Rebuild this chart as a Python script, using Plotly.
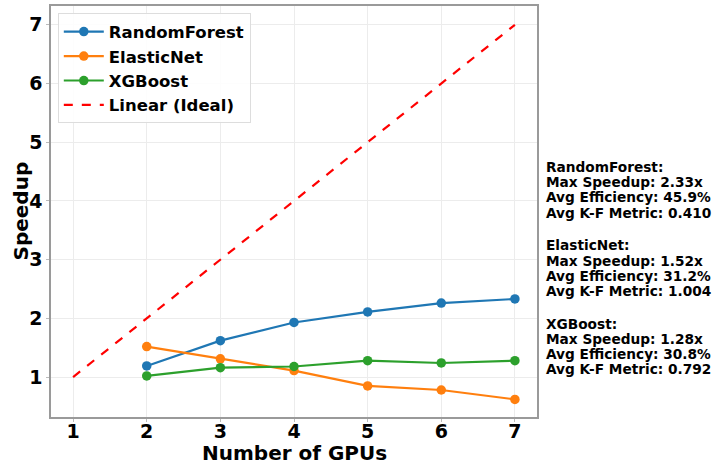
import plotly.graph_objects as go

gpus = [2, 3, 4, 5, 6, 7]
rf_speedup = [1.19, 1.62, 1.93, 2.11, 2.26, 2.33]
en_speedup = [1.52, 1.31, 1.11, 0.85, 0.78, 0.62]
xgb_speedup = [1.02, 1.16, 1.18, 1.28, 1.24, 1.28]
ideal_x = [1, 2, 3, 4, 5, 6, 7]
ideal_y = [1, 2, 3, 4, 5, 6, 7]

stats_blocks = [
    ["RandomForest:", "Max Speedup: 2.33x", "Avg Efficiency: 45.9%", "Avg K-F Metric: 0.410"],
    ["ElasticNet:", "Max Speedup: 1.52x", "Avg Efficiency: 31.2%", "Avg K-F Metric: 1.004"],
    ["XGBoost:", "Max Speedup: 1.28x", "Avg Efficiency: 30.8%", "Avg K-F Metric: 0.792"],
]

FONT = "DejaVu Sans"
W, H = 715, 464
ML, MR, MT, MB = 51, 178, 6, 47
plot_w = W - ML - MR
plot_h = H - MT - MB

fig = go.Figure()
for name, ys, col in [("RandomForest", rf_speedup, "#1f77b4"),
                      ("ElasticNet", en_speedup, "#ff7f0e"),
                      ("XGBoost", xgb_speedup, "#2ca02c")]:
    fig.add_trace(go.Scatter(x=gpus, y=ys, mode="lines+markers", name=name,
                             line=dict(color=col, width=2.2), marker=dict(size=9.5, color=col)))
fig.add_trace(go.Scatter(x=ideal_x, y=ideal_y, mode="lines", name="Linear (Ideal)",
                         line=dict(color="red", width=2.2, dash="dash")))

annotations = []
line_step = 15.2
block_gap = 17.5
for b, block in enumerate(stats_blocks):
    for i, line in enumerate(block):
        py = 167 + line_step * (b * 4 + i) + block_gap * b
        annotations.append(dict(text=line, xref="paper", yref="paper",
                                x=(544 - ML) / plot_w, y=(H - MB - py) / plot_h,
                                xanchor="left", yanchor="middle", showarrow=False,
                                font=dict(size=13.7, family=FONT, weight="bold", color="black")))

# axis titles
annotations.append(dict(text="Number of GPUs", xref="paper", yref="paper",
                        x=0.5, y=-(453 - (H - MB)) / plot_h, xanchor="center", yanchor="middle",
                        showarrow=False, font=dict(size=20, family=FONT, weight="bold", color="black")))
annotations.append(dict(text="Speedup", xref="paper", yref="paper", textangle=-90,
                        x=-(ML - 20) / plot_w, y=0.5, xanchor="center", yanchor="middle",
                        showarrow=False, font=dict(size=20, family=FONT, weight="bold", color="black")))

axis_common = dict(showgrid=True, gridcolor="#ececec", showline=True, linecolor="#9a9a9a",
                   linewidth=1.5, mirror=True, ticks="outside", ticklen=3, tickcolor="#bbbbbb",
                   zeroline=False, automargin=False,
                   tickfont=dict(size=19, family=FONT, weight="bold", color="black"))

fig.update_layout(
    width=W, height=H,
    margin=dict(l=ML, r=MR, t=MT, b=MB),
    paper_bgcolor="white", plot_bgcolor="white",
    font=dict(family=FONT, color="black"),
    legend=dict(x=0.014, y=0.982, xanchor="left", yanchor="top",
                bgcolor="rgba(255,255,255,0.9)", bordercolor="#dddddd", borderwidth=1,
                font=dict(size=16.5, family=FONT, weight="bold"), tracegroupgap=0, itemwidth=40),
    xaxis=dict(range=[0.7, 7.3], tickvals=ideal_x, ticklabelstandoff=-7, **axis_common),
    yaxis=dict(range=[0.32, 7.32], tickvals=ideal_y, **axis_common),
    annotations=annotations,
)
fig.write_html("out.html", config={"displayModeBar": False},
               post_script="document.body.style.margin='0';document.body.style.padding='0';")
